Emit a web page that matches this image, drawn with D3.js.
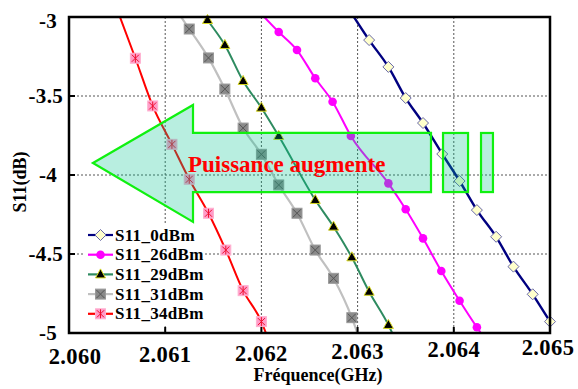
<!DOCTYPE html>
<html><head><meta charset="utf-8">
<script src="https://cdn.jsdelivr.net/npm/d3@7/dist/d3.min.js"></script>
<style>
html,body{margin:0;padding:0;background:#fff;}
svg{display:block;font-family:"Liberation Serif","Times New Roman",serif;font-weight:bold;}
</style></head>
<body>
<svg id="chart" width="578" height="389"></svg>
<script>
// ---- data ----
const seriesNames = ["S11_0dBm","S11_26dBm","S11_29dBm","S11_31dBm","S11_34dBm"];
const freq0  = [2.06293,2.06312,2.06332,2.06350,2.06368,2.06388,2.06406,2.06424,2.06444,2.06462,2.06482,2.06500];
const s11_0  = [-2.970,-3.146,-3.316,-3.513,-3.671,-3.867,-4.038,-4.222,-4.391,-4.580,-4.755,-4.928];
const freq26 = [2.06199,2.06218,2.06237,2.06256,2.06274,2.06293,2.06332,2.06350,2.06368,2.06387,2.06406,2.06424,2.06443];
const s11_26 = [-2.975,-3.095,-3.209,-3.388,-3.536,-3.753,-4.053,-4.217,-4.401,-4.608,-4.796,-4.964,-5.127];
const freq29 = [2.06129,2.06144,2.06162,2.06181,2.06200,2.06218,2.06256,2.06275,2.06294,2.06312,2.06332,2.06344];
const s11_29 = [-2.886,-3.019,-3.177,-3.405,-3.574,-3.753,-4.158,-4.327,-4.521,-4.739,-4.949,-5.108];
const freq31 = [2.06106,2.06125,2.06145,2.06162,2.06181,2.06200,2.06218,2.06237,2.06256,2.06275,2.06294,2.06304];
const s11_31 = [-2.905,-3.076,-3.259,-3.456,-3.703,-3.869,-4.063,-4.242,-4.475,-4.654,-4.903,-5.076];
const freq34 = [2.06051,2.06069,2.06087,2.06107,2.06125,2.06145,2.06163,2.06181,2.06200,2.06211];
const s11_34 = [-2.968,-3.261,-3.563,-3.806,-4.027,-4.242,-4.475,-4.732,-4.928,-5.108];
const xTicks = [2.060,2.061,2.062,2.063,2.064,2.065];
const yTicks = [-3,-3.5,-4,-4.5,-5];
const xTitle = "Fréquence(GHz)";
const yTitle = "S11(dB)";
const annotationText = "Puissance augmente";

// ---- layout ----
const L=69, R=550, T=17, B=333;
const svg = d3.select("#chart");
const x = d3.scaleLinear().domain([2.060,2.065]).range([L,R]);
const y = d3.scaleLinear().domain([-5,-3]).range([B,T]);

const styles = [
  {line:"#000080", w:2.4, marker:"diamond"},
  {line:"#ff00ff", w:2,   marker:"circle"},
  {line:"#2e8b60", w:2,   marker:"triangle"},
  {line:"#c0c0c0", w:2.2, marker:"xsquare"},
  {line:"#ff0000", w:2,   marker:"asterisk"}
];
const series = [[freq0,s11_0],[freq26,s11_26],[freq29,s11_29],[freq31,s11_31],[freq34,s11_34]]
  .map((p,i)=>({name:seriesNames[i], pts:p[0].map((f,j)=>({f, s:p[1][j]})), st:styles[i]}));

svg.append("defs").append("clipPath").attr("id","plotclip")
  .append("rect").attr("x",L).attr("y",T).attr("width",R-L).attr("height",B-T);

// grid
const grid = svg.append("g").attr("stroke","#555").attr("stroke-width",1).attr("stroke-dasharray","2,2");
xTicks.filter(v=>v>2.0605&&v<2.0645).forEach(v=>{
  grid.append("line").attr("x1",x(v)).attr("x2",x(v)).attr("y1",T).attr("y2",B);
});
yTicks.filter(v=>v<-3.1&&v>-4.9).forEach(v=>{
  grid.append("line").attr("x1",L).attr("x2",R).attr("y1",y(v)).attr("y2",y(v));
});

// lines
const lineGen = d3.line().x(d=>x(d.f)).y(d=>y(d.s)).curve(d3.curveMonotoneX);
const lines = svg.append("g").attr("clip-path","url(#plotclip)");
series.forEach(s=>{
  lines.append("path").datum(s.pts).attr("d",lineGen).attr("fill","none")
    .attr("stroke",s.st.line).attr("stroke-width",s.st.w);
});

function drawMarker(g, type, cx, cy){
  const m = g.append("g").attr("transform",`translate(${cx},${cy})`);
  if(type==="diamond"){
    m.append("path").attr("d","M0,-5.5L5.5,0L0,5.5L-5.5,0Z").attr("fill","#ffffcc").attr("stroke","#6868a8").attr("stroke-width",1);
  } else if(type==="circle"){
    m.append("circle").attr("r",4.3).attr("fill","#ff00ff");
  } else if(type==="triangle"){
    m.append("path").attr("d","M0,-5.5L5,3.5L-5,3.5Z").attr("fill","#000").attr("stroke","#d8d820").attr("stroke-width",1);
  } else if(type==="xsquare"){
    m.append("rect").attr("x",-5).attr("y",-5).attr("width",10).attr("height",10).attr("fill","#8a8a8a").attr("stroke","#9a9a9a");
    m.append("path").attr("d","M-4,-4L4,4M4,-4L-4,4").attr("stroke","#555").attr("stroke-width",1);
  } else if(type==="asterisk"){
    m.append("rect").attr("x",-5).attr("y",-5).attr("width",10).attr("height",10).attr("fill","#ff9cc8").attr("stroke","#ffb0d0");
    m.append("path").attr("d","M-3.5,-3.5L3.5,3.5M3.5,-3.5L-3.5,3.5M0,-4.5L0,4.5").attr("stroke","#f01030").attr("stroke-width",1);
  }
}
const markers = svg.append("g");
series.forEach(s=>{
  s.pts.filter(d=>d.s>=-5.01&&d.s<=-2.99&&d.f>=2.05999&&d.f<=2.06501)
   .forEach(d=>drawMarker(markers, s.st.marker, x(d.f), y(d.s)));
});

// frame and ticks
svg.append("rect").attr("x",L).attr("y",T).attr("width",R-L).attr("height",B-T)
  .attr("fill","none").attr("stroke","#000").attr("stroke-width",2.5);
const tk = svg.append("g").attr("stroke","#000").attr("stroke-width",2);
xTicks.forEach(v=>tk.append("line").attr("x1",x(v)).attr("x2",x(v)).attr("y1",B).attr("y2",B-6));
yTicks.forEach(v=>tk.append("line").attr("x1",L).attr("x2",L+6).attr("y1",y(v)).attr("y2",y(v)));

// tick labels
svg.append("g").selectAll("text").data(xTicks).join("text")
  .attr("x",d=>Math.min(Math.max(x(d),75),548))
  .attr("y",d=>364-(x(d)-L)*0.018)
  .attr("text-anchor","middle").attr("font-size",22.5).attr("letter-spacing",0.4).attr("fill","#000")
  .text(d=>d3.format(".3f")(d));
svg.append("g").selectAll("text").data(yTicks).join("text")
  .attr("x",d=>Number.isInteger(d)?57:63)
  .attr("y",d=>Math.max(y(d),21))
  .attr("dominant-baseline","central")
  .attr("text-anchor","end").attr("font-size",21).attr("letter-spacing",0.3).attr("fill","#000")
  .text(d=>String(d));

// axis titles
svg.append("text").attr("x",318).attr("y",381).attr("text-anchor","middle")
  .attr("font-size",18).attr("fill","#000").text(xTitle);
svg.append("text").attr("transform","translate(26,182) rotate(-90)").attr("text-anchor","middle")
  .attr("font-size",18).attr("fill","#000").text(yTitle);

// annotation arrow (data coordinates)
const arrowPts = [[2.060249,-3.924],[2.061289,-3.557],[2.061289,-3.734],[2.063763,-3.734],
                  [2.063763,-4.108],[2.061289,-4.108],[2.061289,-4.297]];
const rects = [[2.063888,2.064148],[2.064283,2.064407]];
const ann = svg.append("g");
const fillC = "rgba(0,194,144,0.28)";
ann.append("path").attr("d","M"+arrowPts.map(p=>x(p[0])+","+y(p[1])).join("L")+"Z")
  .attr("fill",fillC).attr("stroke","#10f010").attr("stroke-width",2.2).attr("stroke-linejoin","miter");
rects.forEach(r=>{
  ann.append("rect").attr("x",x(r[0])).attr("y",y(-3.734)).attr("width",x(r[1])-x(r[0])).attr("height",y(-4.108)-y(-3.734))
    .attr("fill",fillC).attr("stroke","#10f010").attr("stroke-width",2.2);
});
ann.append("text").attr("x",x(2.061237)).attr("y",y(-3.981)).attr("font-size",23)
  .attr("fill","#ff0000").text(annotationText);

// legend
const lg = svg.append("g");
lg.append("rect").attr("x",83).attr("y",225).attr("width",120).attr("height",101).attr("fill","#fff");
series.forEach((s,i)=>{
  const cy = 235 + i*19.7;
  lg.append("line").attr("x1",88).attr("x2",113).attr("y1",cy).attr("y2",cy)
    .attr("stroke",s.st.line).attr("stroke-width",2.2);
  drawMarker(lg, s.st.marker, 100.5, cy);
  lg.append("text").attr("x",115).attr("y",cy).attr("dominant-baseline","central")
    .attr("font-size",17).attr("letter-spacing",0.3).attr("fill","#000").text(s.name);
});
</script>
</body></html>
